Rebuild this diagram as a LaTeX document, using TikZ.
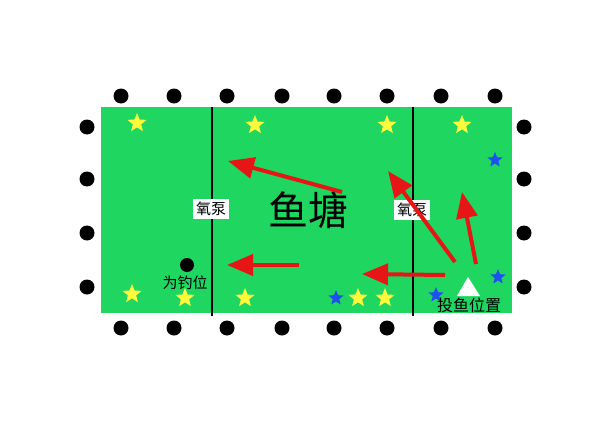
\documentclass[tikz,border=0pt]{standalone}
\usepackage{fontspec}
\newfontfamily\cjk{Noto Sans CJK SC}
\usetikzlibrary{shapes.geometric}
\usetikzlibrary{arrows.meta}
\definecolor{pondgreen}{RGB}{30, 214, 96}
\definecolor{flowred}{RGB}{230, 22, 22}
\definecolor{staryellow}{RGB}{255, 250, 60}
\definecolor{starblue}{RGB}{30, 80, 240}
\tikzset{
  post/.style={circle, fill=black, inner sep=0pt, minimum size=15pt},
  ystar/.style={star, star points=5, star point ratio=2.3, fill=staryellow, inner sep=0pt, minimum size=20pt},
  bstar/.style={star, star points=5, star point ratio=2.3, fill=starblue, inner sep=0pt, minimum size=16pt},
  pumpbox/.style={fill=white, inner sep=3pt, font=\cjk\fontsize{15}{15}\selectfont},
  flow/.style={draw=flowred, line width=4pt, -{Triangle[length=26pt,width=21pt]}}
}
\begin{document}
\begin{tikzpicture}[x=1pt,y=-1pt]
  \useasboundingbox (0,0) rectangle (600,423);
  \fill[white] (0,0) rectangle (600,423);
  % pond
  \fill[pondgreen] (101,107) rectangle (512,313);
  \draw[line width=1.8pt] (212,107) -- (212,316);
  \draw[line width=1.8pt] (413,107) -- (413,316);
  % posts round the pond
  \foreach \x in {121,174,227,282,334,387,441,495} {
    \node[post] at (\x,96) {};
    \node[post] at (\x,328) {};
  }
  \foreach \y in {127,179,233,287} {
    \node[post] at (87,\y) {};
    \node[post] at (524,\y) {};
  }
  % stars
  \node[ystar] (ys1) at (137,123) {};
  \node[ystar] (ys2) at (255,125) {};
  \node[ystar] (ys3) at (387,125) {};
  \node[ystar] (ys4) at (462,125) {};
  \node[ystar] (ys5) at (132,294) {};
  \node[ystar] (ys6) at (185,298) {};
  \node[ystar] (ys7) at (245,298) {};
  \node[ystar] (ys8) at (358,298) {};
  \node[ystar] (ys9) at (385,298) {};
  \node[bstar] (bs1) at (495,160) {};
  \node[bstar] (bs2) at (336,298) {};
  \node[bstar] (bs3) at (436,295) {};
  \node[bstar] (bs4) at (498,277) {};
  % labels
  \node[pumpbox] (pumpa) at (211,209) {氧泵};
  \node[pumpbox] (pumpb) at (412,210) {氧泵};
  \node[font=\cjk\fontsize{40}{40}\selectfont] (pond) at (308,210) {鱼塘};
  \node[post, minimum size=14pt] (seat) at (187,265) {};
  \node[font=\cjk\fontsize{15}{15}\selectfont, inner sep=0pt] (seatlbl) at (185,283) {为钓位};
  \fill[white] (468,277) -- (457,296) -- (480,296) -- cycle;
  \node[font=\cjk\fontsize{16}{16}\selectfont, inner sep=0pt] (droplbl) at (469,305) {投鱼位置};
  % water flow
  \coordinate (t1) at (342,192); \coordinate (h1) at (228,161);
  \coordinate (t2) at (299,265); \coordinate (h2) at (227,265);
  \coordinate (t3) at (445,275); \coordinate (h3) at (362,274);
  \coordinate (t4) at (455,262); \coordinate (h4) at (388,171);
  \coordinate (t5) at (476,264); \coordinate (h5) at (462,192);
  \draw[flow] (t1) -- (h1);
  \draw[flow] (t2) -- (h2);
  \draw[flow] (t3) -- (h3);
  \draw[flow] (t4) -- (h4);
  \draw[flow] (t5) -- (h5);
\end{tikzpicture}
\end{document}
